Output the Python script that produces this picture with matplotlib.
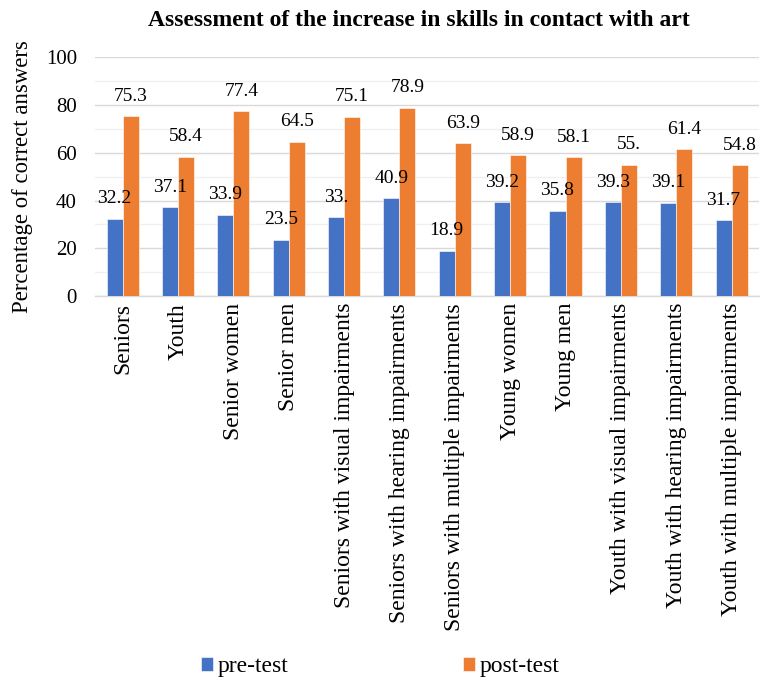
import matplotlib.pyplot as plt
import numpy as np

categories = ["Seniors", "Youth", "Senior women", "Senior men",
              "Seniors with visual impairments", "Seniors with hearing impairments",
              "Seniors with multiple impairments", "Young women", "Young men",
              "Youth with visual impairments", "Youth with hearing impairments",
              "Youth with multiple impairments"]
pre_test = [32.2, 37.1, 33.9, 23.5, 33.0, 40.9, 18.9, 39.2, 35.8, 39.3, 39.1, 31.7]
post_test = [75.3, 58.4, 77.4, 64.5, 75.1, 78.9, 63.9, 58.9, 58.1, 55.0, 61.4, 54.8]
pre_labels = ["32.2", "37.1", "33.9", "23.5", "33.", "40.9", "18.9", "39.2", "35.8", "39.3", "39.1", "31.7"]
post_labels = ["75.3", "58.4", "77.4", "64.5", "75.1", "78.9", "63.9", "58.9", "58.1", "55.", "61.4", "54.8"]

plt.rcParams['font.family'] = ['Liberation Serif', 'DejaVu Serif']

fig = plt.figure(figsize=(7.6, 6.82), dpi=100)
ax = fig.add_axes([0.125, 0.566, 0.874, 0.35])

x = np.arange(len(categories))
w = 0.29
blue = "#4472C4"
orange = "#ED7D31"
b1 = ax.bar(x - w / 2, pre_test, w, color=blue, edgecolor="white", linewidth=0.4, label="pre-test", zorder=3)
b2 = ax.bar(x + w / 2, post_test, w, color=orange, edgecolor="white", linewidth=0.4, label="post-test", zorder=3)

for bars, labels in ((b1, pre_labels), (b2, post_labels)):
    for bar, lab in zip(bars, labels):
        ax.annotate(lab, (bar.get_x() + bar.get_width() / 2, bar.get_height()),
                    xytext=(0, 14.5), textcoords="offset points",
                    ha="center", va="center", fontsize=14, zorder=4)

ax.set_xlim(-0.5, len(categories) - 0.5)
ax.set_ylim(0, 100)
ax.set_yticks(np.arange(0, 101, 20))
ax.set_yticks(np.arange(10, 100, 20), minor=True)
ax.yaxis.grid(True, which="major", color="#D9D9D9", linewidth=1.0, zorder=0)
ax.yaxis.grid(True, which="minor", color="#F0F0F0", linewidth=1.0, zorder=0)
ax.tick_params(axis="y", which="both", length=0, labelsize=15, pad=13)
ax.tick_params(axis="x", length=0, labelsize=17, pad=5)
ax.set_xticks(x)
ax.set_xticklabels(categories, rotation=90, va="top", ha="center")
for s in ("top", "right", "left"):
    ax.spines[s].set_visible(False)
ax.spines["bottom"].set_color("#D9D9D9")
ax.spines["bottom"].set_linewidth(1.0)

ax.set_ylabel("Percentage of correct answers", fontsize=16.4)
ax.yaxis.set_label_coords(-0.093, 0.5)
fig.suptitle("Assessment of the increase in skills in contact with art",
             fontsize=17, fontweight="bold", x=0.551, y=0.985)

fig.legend(handles=[b1, b2], loc="center", bbox_to_anchor=(0.5, 0.022), ncol=2,
           frameon=False, fontsize=17, columnspacing=7.4, handlelength=0.5,
           handleheight=0.5, handletextpad=0.2)

fig.savefig("out.png", dpi=100)
